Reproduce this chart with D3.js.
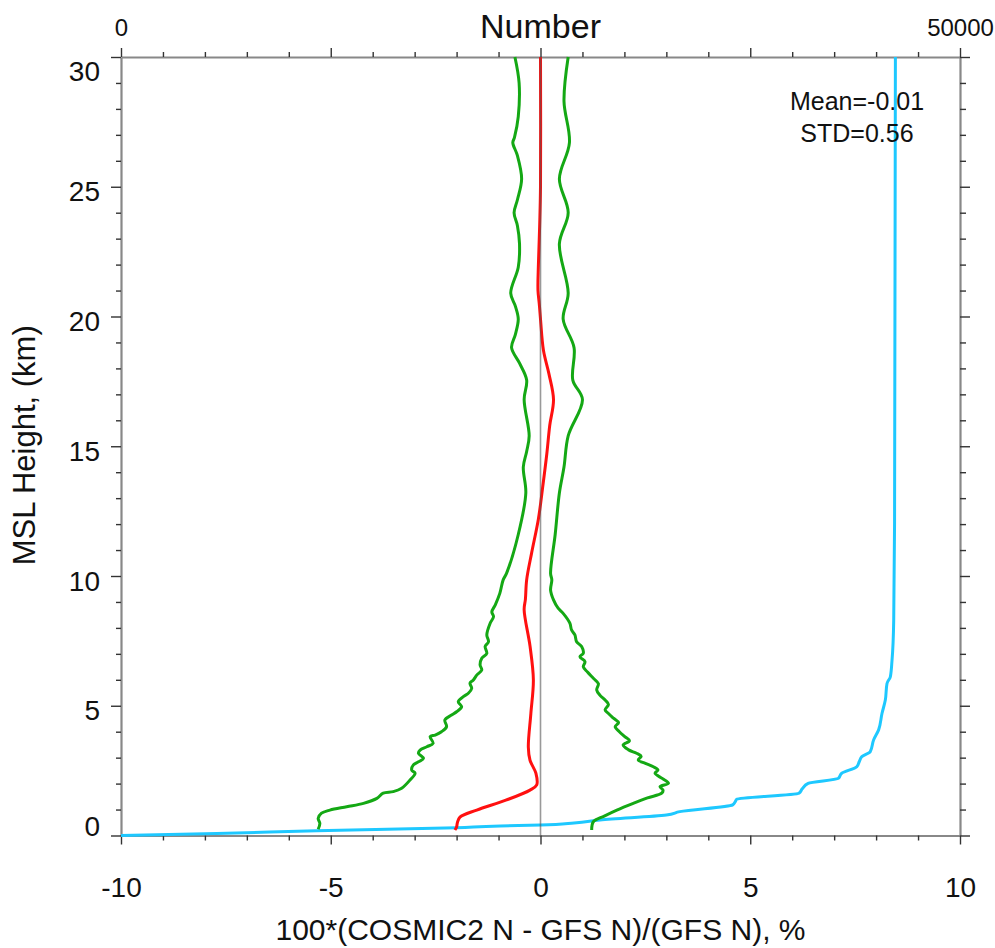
<!DOCTYPE html>
<html>
<head>
<meta charset="utf-8">
<script src="https://cdn.jsdelivr.net/npm/d3@7"></script>
<style>
  body { margin: 0; background: #fff; }
  text { font-family: "Liberation Sans", Arial, sans-serif; fill: #111; }
</style>
</head>
<body>
<div id="chart"></div>
<script>
// heights (km) and percent difference for the mean profile
var meanH = [30, 25, 23.5, 22, 21, 20.5, 19.9, 18.7, 17.8, 16.8, 15.8, 14.7, 13.4, 12.2, 10.9, 9.85, 9.1, 8.7, 7.3, 6.0, 4.7, 3.4, 2.9, 2.4, 1.95, 1.75, 1.37, 0.98, 0.71, 0.5, 0.33, 0.21];
var meanV = [0, 0, -0.02, -0.05, -0.06, -0.03, 0, 0.07, 0.2, 0.31, 0.22, 0.15, 0.05, -0.05, -0.21, -0.33, -0.36, -0.39, -0.25, -0.17, -0.23, -0.29, -0.25, -0.11, -0.09, -0.25, -0.81, -1.52, -1.92, -1.98, -2.0, -2.04];

// mean - std
var lowH = [30, 29, 27.7, 26.9, 26.7, 26.2, 25.3, 24.5, 24.0, 23.5, 22.8, 21.9, 20.9, 20.4, 19.9, 19.3, 18.8, 18.2, 17.55, 16.8, 15.4, 14.8, 14.2, 13.2, 11.6, 10.1,
  9.85, 9.33, 8.88, 8.62, 8.43, 8.18, 7.73, 7.47, 7.28, 7.02, 6.83, 6.57, 6.38, 6.18, 5.99, 5.87, 5.67, 5.48, 5.35, 5.16, 4.96, 4.77, 4.64, 4.45, 4.19, 4.0, 3.87, 3.81, 3.55, 3.42, 3.29, 3.17, 2.97, 2.84, 2.72, 2.52, 2.40, 2.14, 1.82, 1.69, 1.63, 1.43, 1.24, 1.11, 0.98, 0.86, 0.66, 0.47, 0.24];
var lowV = [-0.61, -0.51, -0.53, -0.62, -0.66, -0.55, -0.45, -0.55, -0.63, -0.55, -0.5, -0.53, -0.71, -0.6, -0.53, -0.6, -0.69, -0.5, -0.33, -0.39, -0.27, -0.33, -0.41, -0.35, -0.53, -0.81,
  -0.89, -0.97, -1.08, -1.16, -1.12, -1.2, -1.28, -1.24, -1.32, -1.28, -1.4, -1.44, -1.4, -1.52, -1.6, -1.68, -1.64, -1.72, -1.84, -1.96, -1.88, -2.0, -2.12, -2.28, -2.24, -2.36, -2.51, -2.63, -2.56, -2.71, -2.87, -2.91, -2.79, -2.91, -3.03, -3.07, -2.99, -3.11, -3.31, -3.51, -3.75, -3.9, -4.22, -4.62, -5.02, -5.22, -5.3, -5.26, -5.3];

// mean + std
var highH = [30, 28.3, 26.7, 25.3, 24.0, 22.8, 20.9, 19.9, 18.8, 17.55, 16.8, 15.4, 14.2, 13.2, 11.6, 10.1,
  9.85, 9.46, 9.08, 8.76, 8.56, 8.18, 7.92, 7.73, 7.47, 7.28, 7.02, 6.89, 6.70, 6.50, 6.30, 6.06, 5.85, 5.61, 5.40, 5.22, 5.05, 4.84, 4.70, 4.52, 4.35, 4.19, 4.0, 3.81, 3.65, 3.49, 3.30, 3.17, 3.05, 2.91, 2.78, 2.65, 2.52, 2.40, 2.20, 2.01, 1.88, 1.75, 1.63, 1.45, 1.24, 0.98, 0.75, 0.53, 0.21];
var highV = [0.66, 0.56, 0.69, 0.45, 0.66, 0.45, 0.66, 0.54, 0.8, 0.77, 1.0, 0.66, 0.56, 0.45, 0.35, 0.24,
  0.27, 0.24, 0.31, 0.42, 0.54, 0.7, 0.74, 0.82, 0.86, 0.98, 1.02, 0.94, 1.06, 1.02, 1.12, 1.26, 1.38, 1.34, 1.42, 1.54, 1.62, 1.54, 1.62, 1.74, 1.86, 1.78, 1.88, 2.01, 2.12, 1.97, 2.1, 2.29, 2.4, 2.33, 2.5, 2.69, 2.8, 2.73, 2.9, 3.05, 2.85, 2.92, 2.89, 2.55, 2.21, 1.82, 1.52, 1.26, 1.22];

// number of profiles per height (top axis)
var numH = [0, 0.08, 0.18, 0.30, 0.37, 0.40, 0.48, 0.60, 0.79, 0.92, 1.18, 1.30, 1.40, 1.63, 1.80, 2.01, 2.20, 2.40, 2.65, 2.85, 3.04, 3.23, 3.68, 4.07, 4.7, 5.22, 5.86, 6.12, 6.76, 8.3, 12, 30];
var numV = [0, 5700, 11650, 20000, 22600, 25000, 27000, 28550, 32500, 33300, 36450, 36600, 36700, 40400, 40600, 40950, 42750, 42950, 43850, 44000, 44150, 44650, 44850, 45150, 45350, 45550, 45650, 45850, 45950, 46050, 46100, 46150];

var xTickLabels = [-10, -5, 0, 5, 10];
var yTickLabels = [0, 5, 10, 15, 20, 25, 30];
var statText = ["Mean=-0.01", "STD=0.56"];

var W = 995, H = 948;
var margin = {top: 57, right: 35, bottom: 112.5, left: 121},
    width = W - margin.left - margin.right,
    height = H - margin.top - margin.bottom;

var svg = d3.select("#chart")
  .append("svg")
    .attr("width", W)
    .attr("height", H);

var g = svg.append("g")
    .attr("transform", "translate(" + margin.left + "," + margin.top + ")");

var x = d3.scaleLinear().domain([-10, 10]).range([0, width]);
var xTop = d3.scaleLinear().domain([0, 50000]).range([0, width]);
var y = d3.scaleLinear().domain([0, 30]).range([height, 0]);

function zip(a, b) { return a.map(function(v, i) { return [v, b[i]]; }); }

// gray frame line, dark ticks
function styleAxis(sel) {
  sel.select(".domain").attr("stroke", "#888").attr("stroke-width", 2.2);
  sel.selectAll(".tick line")
    .attr("stroke", "#333")
    .attr("stroke-width", 1.4);
}

var minorX = d3.range(-10, 10.01, 1);

// bottom axis
var bottomAx = g.append("g").attr("transform", "translate(0," + height + ")")
  .call(d3.axisBottom(x).tickValues(minorX).tickSize(5).tickSizeOuter(0).tickFormat(""));
styleAxis(bottomAx);
bottomAx.selectAll(".tick line").attr("y2", function(d) { return d % 5 === 0 ? 9 : 5; });
bottomAx.selectAll(".tick")
  .filter(function(d) { return xTickLabels.indexOf(d) >= 0; })
  .select("text")
    .text(function(d) { return d; })
    .attr("y", 0).attr("dy", 0)
    .attr("transform", "translate(0,61)")
    .style("font-size", "28px").style("fill", "#111");

// top axis (Number)
var minorTop = d3.range(0, 50001, 2500);
var topAx = g.append("g")
  .call(d3.axisTop(xTop).tickValues(minorTop).tickSize(5).tickSizeOuter(0).tickFormat(""));
styleAxis(topAx);
topAx.selectAll(".tick line").attr("y2", function(d) { return d % 12500 === 0 ? -9 : -5; });
topAx.selectAll(".tick")
  .filter(function(d) { return d === 0 || d === 50000; })
  .select("text")
    .text(function(d) { return d; })
    .attr("y", 0).attr("dy", 0)
    .attr("transform", "translate(0,-21)")
    .style("font-size", "24px").style("fill", "#111");

// left axis
var minorY = d3.range(0, 30.01, 1);
var leftAx = g.append("g")
  .call(d3.axisLeft(y).tickValues(minorY).tickSize(4).tickSizeOuter(0).tickFormat(""));
styleAxis(leftAx);
leftAx.selectAll(".tick line").attr("x2", function(d) { return d % 5 === 0 ? -10 : -5; });
leftAx.selectAll(".tick")
  .filter(function(d) { return yTickLabels.indexOf(d) >= 0; })
  .select("text")
    .text(function(d) { return d; })
    .attr("x", -21)
    .attr("dy", function(d) { return d === 30 ? "0.85em" : (d === 0 ? "0.0em" : "0.5em"); })
    .style("font-size", "28px").style("fill", "#111");

// right axis (no labels)
var rightAx = g.append("g").attr("transform", "translate(" + width + ",0)")
  .call(d3.axisRight(y).tickValues(minorY).tickSize(5).tickSizeOuter(0).tickFormat(""));
styleAxis(rightAx);
rightAx.selectAll(".tick line").attr("x2", function(d) { return d % 5 === 0 ? 10 : 6; });

// profile lines
var line = d3.line()
  .curve(d3.curveCatmullRom.alpha(0.5))
  .x(function(d) { return x(d[1]); })
  .y(function(d) { return y(d[0]); });

var lineTop = d3.line()
  .curve(d3.curveMonotoneY)
  .x(function(d) { return xTop(d[1]); })
  .y(function(d) { return y(d[0]); });

g.append("path")
  .datum(zip(numH, numV))
  .attr("d", lineTop)
  .attr("fill", "none")
  .attr("stroke", "#1ec8ff")
  .attr("stroke-width", 3);

g.append("path")
  .datum(zip(lowH, lowV))
  .attr("d", line)
  .attr("fill", "none")
  .attr("stroke", "#14a814")
  .attr("stroke-width", 3);

g.append("path")
  .datum(zip(highH, highV))
  .attr("d", line)
  .attr("fill", "none")
  .attr("stroke", "#14a814")
  .attr("stroke-width", 3);

g.append("path")
  .datum(zip(meanH, meanV))
  .attr("d", line)
  .attr("fill", "none")
  .attr("stroke", "#ff1010")
  .attr("stroke-width", 3);

// zero line
g.append("line")
  .attr("x1", x(0)).attr("x2", x(0))
  .attr("y1", 0).attr("y2", height)
  .attr("stroke", "#555")
  .attr("stroke-opacity", 0.6)
  .attr("stroke-width", 1.6);

// stats text
g.selectAll(".stat")
  .data(statText)
  .enter()
  .append("text")
    .attr("class", "stat")
    .attr("x", 736)
    .attr("y", function(d, i) { return 53 + i * 32; })
    .attr("text-anchor", "middle")
    .style("font-size", "25px")
    .text(function(d) { return d; });

// titles
svg.append("text")
  .attr("x", margin.left + width / 2)
  .attr("y", 38)
  .attr("text-anchor", "middle")
  .style("font-size", "34px")
  .text("Number");

svg.append("text")
  .attr("x", margin.left + width / 2)
  .attr("y", 940)
  .attr("text-anchor", "middle")
  .style("font-size", "30px")
  .text("100*(COSMIC2 N - GFS N)/(GFS N), %");

svg.append("text")
  .attr("transform", "translate(35," + (margin.top + height / 2 - 1) + ") rotate(-90)")
  .attr("text-anchor", "middle")
  .style("font-size", "31px")
  .text("MSL Height, (km)");
</script>
</body>
</html>
